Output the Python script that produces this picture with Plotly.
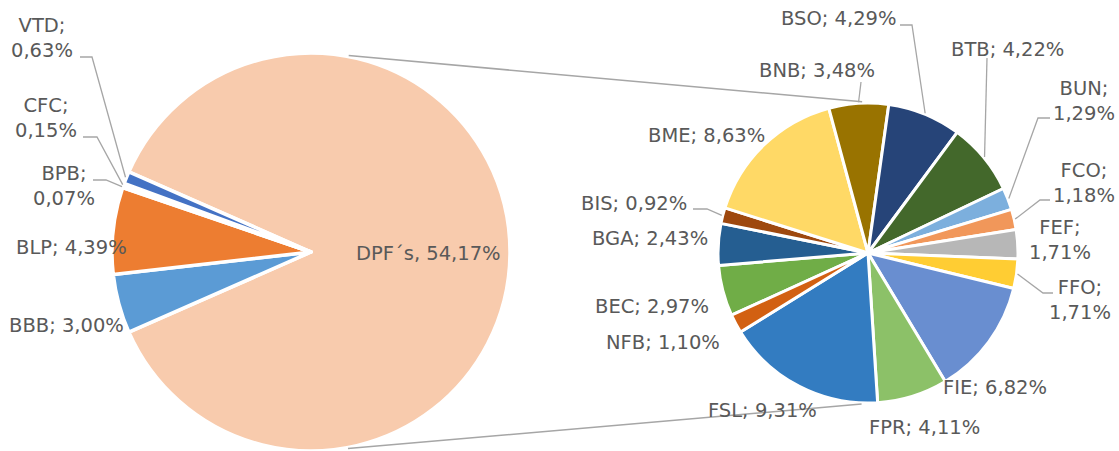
import math
import plotly.graph_objects as go

W, H = 1119, 451

# ---------------- data ----------------
left_labels = ["DPF´s", "BBB", "BLP", "BPB", "CFC", "VTD"]
left_values = [54.17, 3.00, 4.39, 0.07, 0.15, 0.63]

right_labels = ["BEC", "BGA", "BIS", "BME", "BNB", "BSO", "BTB", "BUN",
                "FCO", "FEF", "FFO", "FIE", "FPR", "FSL", "NFB"]
right_values = [2.97, 2.43, 0.92, 8.63, 3.48, 4.29, 4.22, 1.29,
                1.18, 1.71, 1.71, 6.82, 4.11, 9.31, 1.10]

# ---------------- styles ----------------
left_colors = ["#F8CBAD", "#5B9BD5", "#ED7D31", "#FFC000", "#A5A5A5", "#4472C4"]
right_colors = ["#70AD47", "#255E91", "#9E480E", "#FFD966", "#997300", "#264478",
                "#43682B", "#7CAFDD", "#F1975A", "#B7B7B7", "#FFCD33", "#698ED0",
                "#8CC168", "#337CC1", "#D26012"]

FONT = dict(family="DejaVu Sans, Verdana, sans-serif", size=19.5, color="#595959")
LINE_COLOR = "#A6A6A6"

# pie geometry (pixels, y measured from top)
L_CX, L_CY, L_R = 311, 252, 199
R_CX, R_CY, R_R = 868, 253, 150

left_total = sum(left_values)
right_total = sum(right_values)
# "other" slice centred at 3 o'clock (90 deg clockwise from 12 o'clock)
left_rot = 90 - 0.5 * 360 * left_values[0] / left_total
right_rot = -114.5


def px(x, y):
    return x / W, 1 - y / H


def dom(cx, cy, r):
    return dict(x=[(cx - r) / W, (cx + r) / W],
                y=[(H - cy - r) / H, (H - cy + r) / H])


def mid_point(cx, cy, r, rot, values, i):
    tot = sum(values)
    cum = sum(values[:i]) + values[i] / 2
    ang = math.radians(rot + cum / tot * 360)
    return cx + r * math.sin(ang), cy - r * math.cos(ang)


def fmt(v):
    return f"{v:.2f}".replace(".", ",") + "%"


fig = go.Figure()
fig.add_trace(go.Pie(labels=left_labels, values=left_values, sort=False,
                     direction="clockwise", rotation=left_rot,
                     marker=dict(colors=left_colors, line=dict(color="white", width=3.5)),
                     textinfo="none", hoverinfo="label+percent",
                     domain=dom(L_CX, L_CY, L_R), showlegend=False))
fig.add_trace(go.Pie(labels=right_labels, values=right_values, sort=False,
                     direction="clockwise", rotation=right_rot,
                     marker=dict(colors=right_colors, line=dict(color="white", width=3)),
                     textinfo="none", hoverinfo="label+percent",
                     domain=dom(R_CX, R_CY, R_R), showlegend=False))

# ---------------- label layout (pixel centres) ----------------
# name: (x, y, two_lines, leader points before the slice end)
left_layout = {
    "DPF´s": (428, 253, False, None),
    "BBB": (66, 325, False, None),
    "BLP": (71, 247, False, None),
    "BPB": (64, 186, True, [(93, 180), (106, 180)]),
    "CFC": (46, 118, True, [(83, 137), (97, 137)]),
    "VTD": (42, 38, True, [(80, 57), (92, 57)]),
}
right_layout = {
    "BEC": (652, 306, False, None),
    "BGA": (650, 238, False, None),
    "BIS": (634, 203, False, [(693, 209), (707, 209)]),
    "BME": (706, 135, False, None),
    "BNB": (817, 70, False, [(861, 82)]),
    "BSO": (838, 18, False, [(900, 25), (912, 25)]),
    "BTB": (1007, 49, False, [(987, 58)]),
    "BUN": (1084, 101, True, [(1050, 118), (1038, 118)]),
    "FCO": (1084, 183, True, [(1050, 200), (1040, 200)]),
    "FEF": (1060, 240, True, None),
    "FFO": (1080, 300, True, [(1053, 293), (1043, 293)]),
    "FIE": (995, 387, False, None),
    "FPR": (924, 427, False, None),
    "FSL": (762, 410, False, None),
    "NFB": (663, 342, False, None),
}

annotations = []
shapes = []


def add_labels(labels, values, layout, cx, cy, r, rot):
    for i, (lab, val) in enumerate(zip(labels, values)):
        x, y, two, leader = layout[lab]
        sep = ", " if lab == "DPF´s" else ("; " if not two else ";<br>")
        text = f"{lab}{sep}{fmt(val)}"
        ax, ay = px(x, y)
        annotations.append(dict(x=ax, y=ay, xref="paper", yref="paper", text=text,
                                showarrow=False, xanchor="center", yanchor="middle",
                                align="center", font=FONT))
        if leader:
            pts = list(leader) + [mid_point(cx, cy, r, rot, values, i)]
            path = "M " + " L ".join(f"{px(a, b)[0]:.5f},{px(a, b)[1]:.5f}" for a, b in pts)
            shapes.append(dict(type="path", path=path, xref="paper", yref="paper",
                               line=dict(color=LINE_COLOR, width=1.3)))


add_labels(left_labels, left_values, left_layout, L_CX, L_CY, L_R + 1, left_rot)
add_labels(right_labels, right_values, right_layout, R_CX, R_CY, R_R + 1, right_rot)

# ---------------- connector lines (outer tangents of both pies) ----------------
dx, dy = R_CX - L_CX, R_CY - L_CY
D = math.hypot(dx, dy)
theta = math.atan2(dy, dx)
phi = math.acos((L_R - R_R) / D)
for sgn in (-1, 1):
    a = theta + sgn * phi
    nx, ny = math.cos(a), math.sin(a)
    p1 = (L_CX + L_R * nx, L_CY + L_R * ny)
    p2 = (R_CX + R_R * nx, R_CY + R_R * ny)
    t = 20 / D
    s = (p1[0] + (p2[0] - p1[0]) * t, p1[1] + (p2[1] - p1[1]) * t)
    e = (p2[0] - (p2[0] - p1[0]) * 0.035, p2[1] - (p2[1] - p1[1]) * 0.035)
    x0, y0 = px(*s)
    x1, y1 = px(*e)
    shapes.append(dict(type="line", x0=x0, y0=y0, x1=x1, y1=y1, xref="paper", yref="paper",
                       line=dict(color=LINE_COLOR, width=1.5)))

fig.update_layout(width=W, height=H, margin=dict(l=0, r=0, t=0, b=0),
                  paper_bgcolor="white", plot_bgcolor="white",
                  annotations=annotations, shapes=shapes, showlegend=False)

fig.write_html("out.html", config={"displayModeBar": False},
               post_script="document.body.style.margin='0';document.body.style.overflow='hidden';")
